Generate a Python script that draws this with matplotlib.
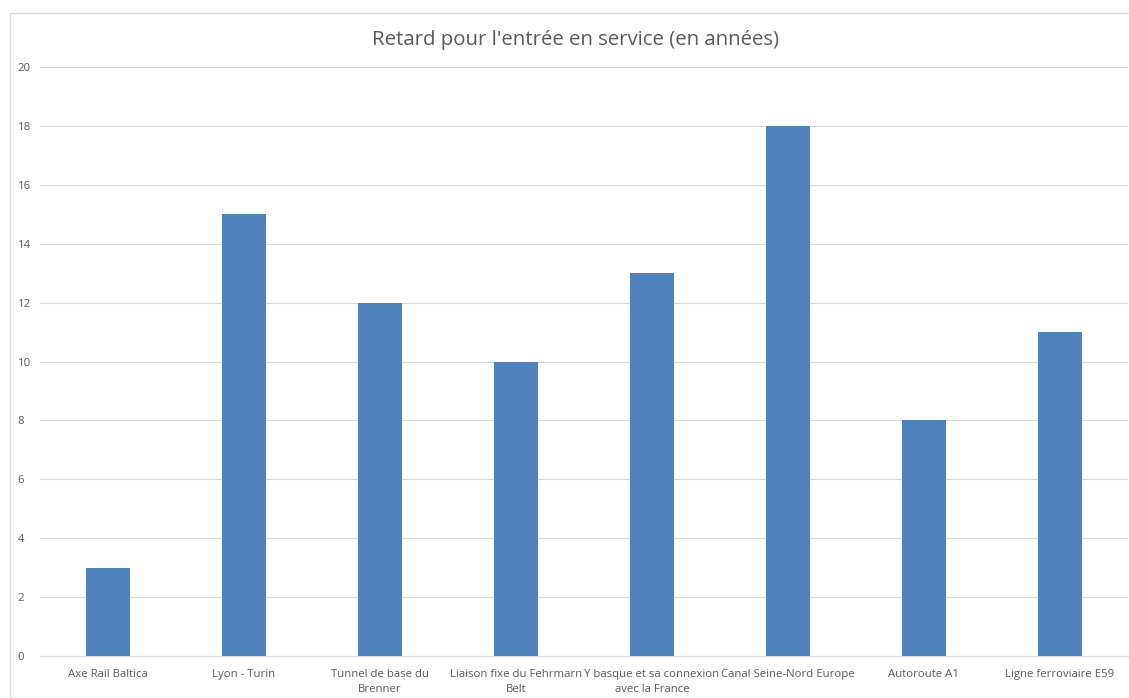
import matplotlib
matplotlib.use("Agg")
from matplotlib import pyplot as plt
from matplotlib.patches import Rectangle

projects = ["Axe Rail Baltica", "Lyon - Turin", "Tunnel de base du\nBrenner",
            "Liaison fixe du Fehrmarn\nBelt", "Y basque et sa connexion\navec la France",
            "Canal Seine-Nord Europe", "Autoroute A1", "Ligne ferroviaire E59"]
delay_years = [3, 15, 12, 10, 13, 18, 8, 11]
y_ticks = [0, 2, 4, 6, 8, 10, 12, 14, 16, 18, 20]

W, H = 1129, 698
fig = plt.figure(figsize=(W / 100, H / 100), dpi=100)
plt.rcParams['font.family'] = ['Open Sans', 'DejaVu Sans']

# chart frame like in the spreadsheet
fig.patches.append(Rectangle((10 / W, 0), 1.2, 1 - 13 / H, transform=fig.transFigure,
                             fill=False, edgecolor="#D9D9D9", linewidth=1))

ax = fig.add_axes([40 / W, (H - 656) / H, (1128 - 40) / W, (656 - 67) / H])
x = range(len(projects))
ax.bar(x, delay_years, width=0.32, color="#4F81BD", zorder=3)

ax.set_xlim(-0.5, len(projects) - 0.5)
ax.set_ylim(0, 20)
ax.set_yticks(y_ticks)
ax.set_xticks(list(x))
ax.set_xticklabels(projects, fontsize=8.2, color="#595959", linespacing=1.45)
ax.tick_params(axis="y", labelsize=8.2, labelcolor="#595959", length=0, pad=16)
ax.tick_params(axis="x", length=0, pad=9.5)
for lbl in ax.get_yticklabels():
    lbl.set_horizontalalignment("left")

ax.grid(axis="y", color="#D9D9D9", linewidth=0.8, zorder=0)
for s in ["top", "right", "left"]:
    ax.spines[s].set_visible(False)
ax.spines["bottom"].set_color("#D9D9D9")

fig.text(575 / W, 1 - 40 / H, "Retard pour l'entrée en service (en années)",
         ha="center", va="center", fontsize=14.7, color="#595959")

fig.savefig("out.png", dpi=100)
